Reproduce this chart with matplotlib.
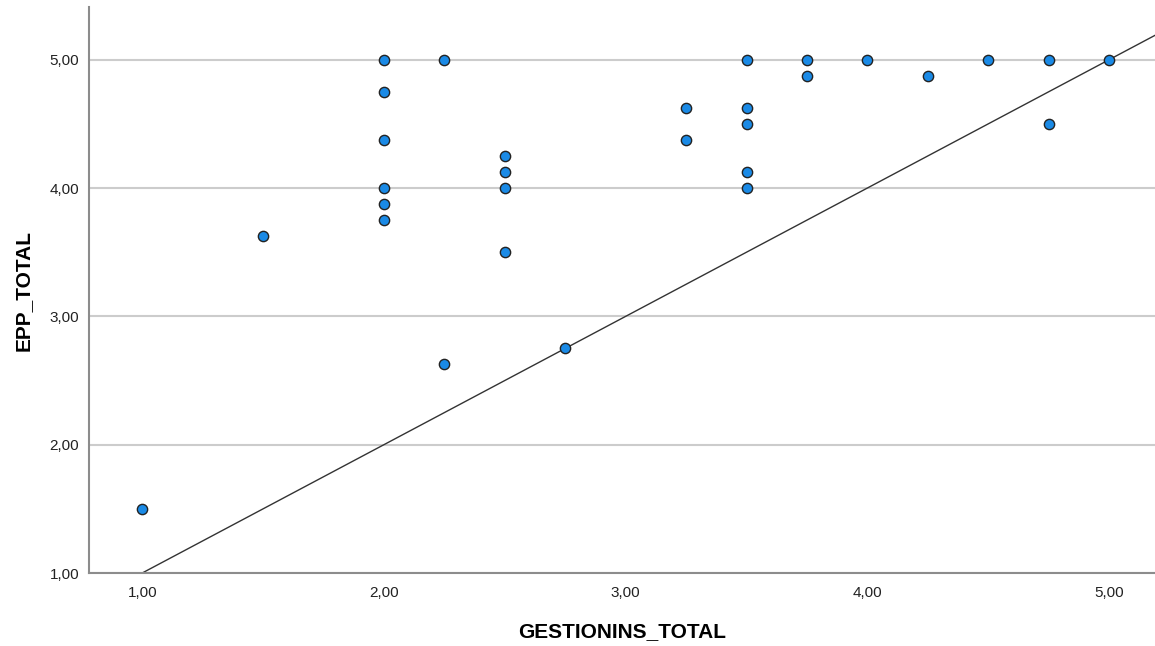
import matplotlib.pyplot as plt

plt.rcParams["font.family"] = ["Liberation Sans", "DejaVu Sans"]

# GESTIONINS_TOTAL (x) vs EPP_TOTAL (y)
gestionins = [1.00, 1.50,
              2.00, 2.00, 2.00, 2.00, 2.00, 2.00,
              2.25, 2.25,
              2.50, 2.50, 2.50, 2.50,
              2.75,
              3.25, 3.25,
              3.50, 3.50, 3.50, 3.50, 3.50,
              3.75, 3.75,
              4.00, 4.25, 4.50,
              4.75, 4.75,
              5.00]
epp = [1.500, 3.625,
       5.000, 4.750, 4.375, 4.000, 3.875, 3.750,
       5.000, 2.625,
       4.250, 4.125, 4.000, 3.500,
       2.750,
       4.625, 4.375,
       5.000, 4.625, 4.500, 4.125, 4.000,
       5.000, 4.875,
       5.000, 4.875, 5.000,
       5.000, 4.500,
       5.000]

ticks = [1, 2, 3, 4, 5]
tick_labels = ["1,00", "2,00", "3,00", "4,00", "5,00"]

fig = plt.figure(figsize=(11.55, 6.46), dpi=100)
ax = fig.add_axes([0.0771, 0.113, 0.9229, 0.876])

ax.set_xlim(0.78, 5.19)
ax.set_ylim(1.0, 5.41)

ax.grid(axis="y", color="#cccccc", linewidth=1.5)
ax.set_axisbelow(True)

# reference line y = x
ax.axline((1, 1), slope=1, color="#333333", linewidth=1.0, zorder=2)

ax.plot(gestionins, epp, "o", markersize=7.4, markerfacecolor="#1a8ae6",
        markeredgecolor="#222222", markeredgewidth=1.0, zorder=3)

ax.set_xticks(ticks)
ax.set_xticklabels(tick_labels)
ax.set_yticks(ticks)
ax.set_yticklabels(tick_labels)
ax.tick_params(length=0, labelsize=11, colors="#222222")
ax.tick_params(axis="x", pad=9)
ax.tick_params(axis="y", pad=7)

for s in ["top", "right"]:
    ax.spines[s].set_visible(False)
for s in ["left", "bottom"]:
    ax.spines[s].set_color("#8c8c8c")
    ax.spines[s].set_linewidth(1.5)

ax.set_xlabel("GESTIONINS_TOTAL", fontsize=15, fontweight="bold", labelpad=16)
ax.set_ylabel("EPP_TOTAL", fontsize=15, fontweight="bold", labelpad=12)

fig.savefig("out.png", dpi=100)
